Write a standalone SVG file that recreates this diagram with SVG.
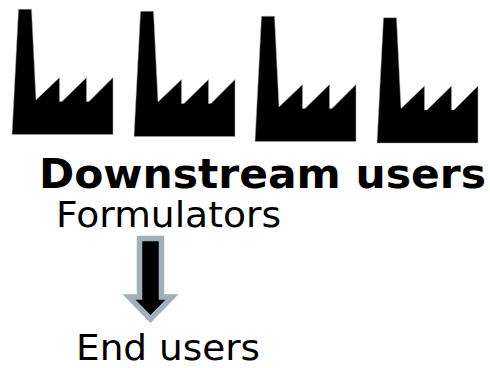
<svg xmlns="http://www.w3.org/2000/svg" width="490" height="368" viewBox="0 0 490 368">
<style>
text{font-family:"DejaVu Sans",Verdana,sans-serif;fill:#000}
.f{fill:#000;stroke:#aaa;stroke-width:.5}
.t{font-size:36px}
.b{font-size:40px;font-weight:bold}
</style>
<defs><path id="fac" class="f" d="M18.5 9.3H31.5L36 100L59.5 77.5V101.5H62L86.5 77.5V101.5H89L113 77.5V134.5H12Z"/></defs>
<rect width="490" height="368" fill="#fff"/>
<g id="factory1"><use href="#fac"/></g>
<g id="factory2"><use href="#fac" x="122" y="2"/></g>
<g id="factory3"><use href="#fac" x="243" y="7"/></g>
<g id="factory4"><use href="#fac" x="365" y="8.500"/></g>
<g id="downstream"><text class="b" x="39" y="188" textLength="447" lengthAdjust="spacingAndGlyphs">Downstream users</text></g>
<g id="formulators"><text class="t" x="56" y="227" textLength="225" lengthAdjust="spacingAndGlyphs">Formulators</text></g>
<g id="endusers"><text class="t" x="76" y="359.500" textLength="184" lengthAdjust="spacingAndGlyphs">End users</text></g>
<g id="connectors"><path d="M139.500 238.500H161.500V297H172L150.500 319L129 297H139.500Z" fill="#000" stroke="#9fb0b8" stroke-width="5.500"/></g>
</svg>
